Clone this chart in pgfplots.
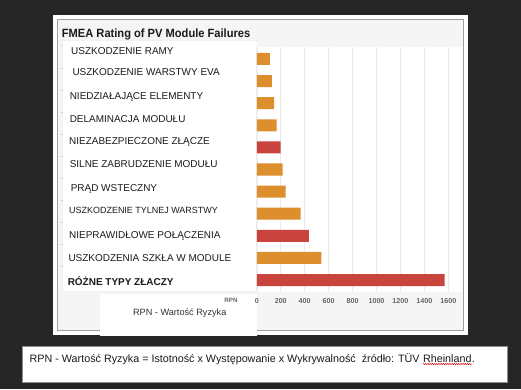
\documentclass[border=0pt]{standalone}
\usepackage{pgfplots}
\pgfplotsset{compat=1.18}
\usepackage{fontspec}
\setmainfont{Liberation Sans}
\newfontfamily\titlefont[FakeStretch=0.93]{Liberation Sans}
\usetikzlibrary{decorations.pathmorphing}
\definecolor{bgdark}{HTML}{262626}
\definecolor{panel}{HTML}{F5F5F5}
\definecolor{framec}{HTML}{A0A0A0}
\definecolor{gridc}{HTML}{EBEBEB}
\definecolor{tickc}{HTML}{666666}
\definecolor{barorange}{HTML}{DD8E2D}
\definecolor{barred}{HTML}{C9443D}
\definecolor{labc}{HTML}{1A1A1A}
\begin{document}
\begin{tikzpicture}[x=1bp,y=1bp]
\useasboundingbox (0,0) rectangle (521,389);
\fill[bgdark] (0,0) rectangle (521,389);
\fill[white] (53,54) rectangle (468,374);
\filldraw[fill=panel, draw=framec, line width=1bp] (57,59) rectangle (463,369);
\fill[white] (256.8,97) rectangle (462.3,342);
\filldraw[fill=white, draw=gridc!70!white, line width=0.6bp] (62,98) rectangle (257,349);
\fill[white] (100,53.5) rectangle (257,95.5);
% faint left ticks of the original chart
\foreach \yy in {343.5,320.5,298.5,276.5,254.5,232.5,210.5,188.5,166.5,144.5,122.5}
  \draw[black!20, line width=0.5bp] (60.5,\yy) -- (62.5,\yy);
% title
\node[anchor=base west, inner sep=0pt, text=labc] at (61.7,351.7) {\titlefont\bfseries\fontsize{12}{14}\selectfont FMEA Rating of PV Module Failures};
% category labels
\begin{scope}[every node/.style={anchor=base west, inner sep=0pt, text=labc, font=\fontsize{10}{12}\selectfont}]
\node at (71,334.9) {USZKODZENIE RAMY};
\node at (72.3,313.2) {USZKODZENIE WARSTWY EVA};
\node at (69.6,289.1) {NIEDZIAŁAJĄCE ELEMENTY};
\node at (69.6,266.4) {DELAMINACJA MODUŁU};
\node at (69,244.7) {NIEZABEZPIECZONE ZŁĄCZE};
\node at (69.6,221.7) {SILNE ZABRUDZENIE MODUŁU};
\node at (70.6,197.7) {PRĄD WSTECZNY};
\node[font=\fontsize{9}{11}\selectfont] at (69,176) {USZKODZENIE TYLNEJ WARSTWY};
\node at (69,150.2) {NIEPRAWIDŁOWE POŁĄCZENIA};
\node at (68.3,127.4) {USZKODZENIA SZKŁA W MODULE};
\node[font=\bfseries\fontsize{10}{12}\selectfont] at (67.6,103.7) {RÓŻNE TYPY ZŁACZY};
\end{scope}
\node[anchor=base, inner sep=0pt, text=black!80] at (179.7,74) {\fontsize{9.2}{11}\selectfont RPN - Wartość Ryzyka};
\node[anchor=base, inner sep=0pt, text=tickc] at (231,86.75) {\bfseries\fontsize{6.3}{7}\selectfont RPN};
\begin{axis}[
  at={(256.8bp,97bp)}, anchor=south west,
  scale only axis, width=205.5bp, height=245bp,
  xmin=0, xmax=1716.8, ymin=-0.543, ymax=10.543,
  axis line style={draw=none}, major tick length=0pt,
  xtick={0,200,400,600,800,1000,1200,1400,1600}, ytick=\empty,
  xmajorgrids, grid style={color=gridc, line width=0.9bp},
  xticklabel style={font=\bfseries\fontsize{7.2}{8}\selectfont, text=tickc, anchor=center, inner sep=0pt, yshift=-8.7bp},
  /pgf/number format/assume math mode=true,
  /pgf/number format/1000 sep={},
  clip=false,
]
\addplot[xbar, bar shift=0pt, bar width=12bp, fill=barorange, draw=none] coordinates {
  (540,1) (365,3) (240,4) (215,5) (165,7) (145,8) (125,9) (110,10)
};
\addplot[xbar, bar shift=0pt, bar width=12bp, fill=barred, draw=none] coordinates {
  (1570,0) (435,2) (200,6)
};
\end{axis}
% bottom note
\filldraw[fill=white, draw=black!45, line width=0.8bp] (22.7,6.3) rectangle (507.3,43);
\node[anchor=base west, inner sep=0pt, text=labc] (n1) at (29.5,26.8) {\fontsize{10.8}{13}\selectfont RPN - Wartość Ryzyka = Istotność x Występowanie x Wykrywalność\ \ źródło: TÜV};
\node[anchor=base west, inner sep=0pt, text=labc] (n2) at ([xshift=3bp]n1.base east) {\fontsize{10.8}{13}\selectfont Rheinland};
\node[anchor=base west, inner sep=0pt, text=labc] at (n2.base east) {\fontsize{10.8}{13}\selectfont .};
\draw[red!85!black, line width=0.5bp, decorate, decoration={snake, amplitude=0.6bp, segment length=2.2bp}] ([yshift=-1.8bp]n2.base west) -- ([yshift=-1.8bp]n2.base east);
\end{tikzpicture}
\end{document}
